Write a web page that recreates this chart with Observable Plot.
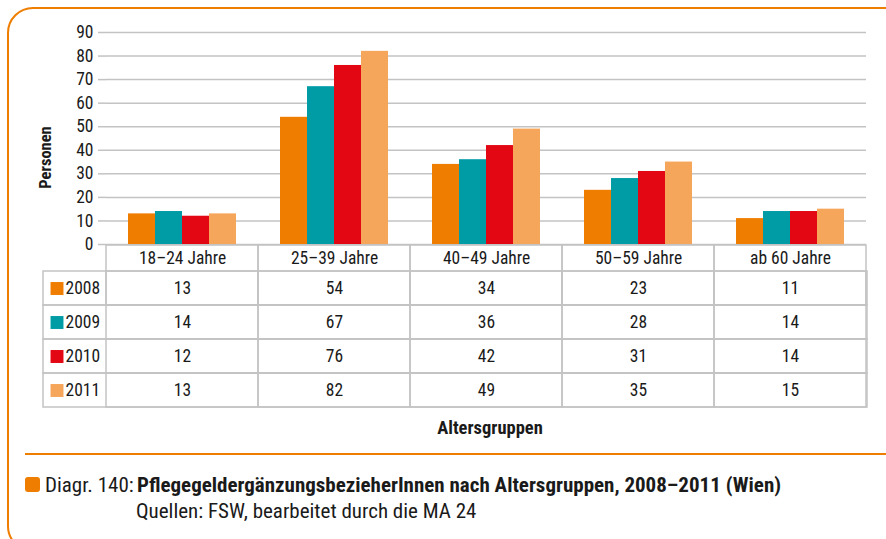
<!DOCTYPE html>
<html>
<head>
<meta charset="utf-8">
<script src="https://cdn.jsdelivr.net/npm/d3@7"></script>
<script src="https://cdn.jsdelivr.net/npm/@observablehq/plot@0.6"></script>
<style>
  html, body { margin: 0; padding: 0; background: #fff; }
  body { width: 886px; height: 539px; position: relative; overflow: hidden;
         font-family: "Liberation Sans Narrow", "Roboto Condensed", "DejaVu Sans Condensed", sans-serif; color: #1a1a1a; }
  .frame { position: absolute; left: 7px; top: 7px; width: 910px; height: 545px;
           border: 2px solid #ef7d00; border-radius: 26px; box-sizing: border-box; }
  #chart, #table { position: absolute; left: 0; }
  #chart { top: 0; }
  #table { top: 244px; }
  svg { font-family: "Liberation Sans Narrow", "Roboto Condensed", "DejaVu Sans Condensed", sans-serif; }
  .xtitle { position: absolute; left: 109px; width: 762px; top: 418px; text-align: center;
            font-weight: bold; font-size: 18.5px; line-height: 20px; }
  .sep { position: absolute; left: 25px; top: 453px; width: 870px; height: 2px; background: #ef7d00; }
  .sw { position: absolute; left: 25px; top: 477px; width: 15px; height: 15px; border-radius: 3px; background: #ef7d00; }
  .cap { position: absolute; left: 45px; top: 472px; font-size: 21px; line-height: 26px; }
  .cap .lab { display: inline-block; width: 92px; }
  .cap .src { padding-left: 91px; }
</style>
</head>
<body>
<div class="frame"></div>
<div id="chart"></div>
<div id="table"></div>
<div class="xtitle">Altersgruppen</div>
<div class="sep"></div>
<div class="sw"></div>
<div class="cap">
  <div><span class="lab">Diagr. 140:</span><b>PflegegeldergänzungsbezieherInnen nach Altersgruppen, 2008–2011 (Wien)</b></div>
  <div class="src">Quellen: FSW, bearbeitet durch die MA 24</div>
</div>
<script>
const categories = ["18–24 Jahre", "25–39 Jahre", "40–49 Jahre", "50–59 Jahre", "ab 60 Jahre"];
const years = ["2008", "2009", "2010", "2011"];
const colors = ["#ef7d00", "#009ca6", "#e30613", "#f6a65a"];
const values2008 = [13, 54, 34, 23, 11];
const values2009 = [14, 67, 36, 28, 14];
const values2010 = [12, 76, 42, 31, 14];
const values2011 = [13, 82, 49, 35, 15];
const yTicks = [0, 10, 20, 30, 40, 50, 60, 70, 80, 90];
const yTitle = "Personen";

const series = [values2008, values2009, values2010, values2011];
const rows = [];
years.forEach((yr, j) => categories.forEach((cat, i) => rows.push({cat, year: yr, value: series[j][i]})));

const grid = "#c3c3c3";
const fs = 17.5;

const chart = Plot.plot({
  width: 886, height: 270,
  marginLeft: 105, marginRight: 19, marginTop: 32, marginBottom: 26,
  style: {background: "transparent", color: "#1a1a1a"},
  fx: {domain: categories, padding: 0, axis: null},
  x: {domain: years, paddingInner: 0, paddingOuter: 0.72, axis: null},
  y: {domain: [0, 90], axis: null},
  color: {domain: years, range: colors},
  marks: [
    Plot.gridY(yTicks, {stroke: grid, strokeOpacity: 1, strokeWidth: 1.5}),
    Plot.barY(rows, {fx: "cat", x: "year", y: "value", fill: "year"}),
    Plot.axisY(yTicks, {tickSize: 8, tickPadding: 5, fontSize: fs, stroke: grid, strokeWidth: 1.5,
      label: null, line: true}),
    Plot.text([yTitle], {fx: () => categories[0], frameAnchor: "left", dx: -61, dy: 19, rotate: -90,
      textAnchor: "middle", lineAnchor: "middle", fontSize: 16.5, fontWeight: "bold", text: d => d})
  ]
});
document.getElementById("chart").append(chart);

const table = Plot.plot({
  width: 886, height: 165,
  marginLeft: 105, marginRight: 19, marginTop: 26, marginBottom: 1,
  style: {background: "transparent", color: "#1a1a1a"},
  x: {domain: categories, padding: 0, axis: null},
  y: {domain: years, padding: 0, axis: null},
  color: {domain: years, range: colors},
  marks: [
    Plot.cell(categories, {x: d => d, y: () => years[0], insetTop: -26, fill: "none", stroke: grid, strokeWidth: 1.5}),
    Plot.cell(years, {y: d => d, insetLeft: -62, fill: "none", stroke: grid, strokeWidth: 1.5}),
    Plot.cell(rows, {x: "cat", y: "year", fill: "none", stroke: grid, strokeWidth: 1.5}),
    Plot.text(rows, {x: "cat", y: "year", text: d => String(d.value), fontSize: fs}),
    Plot.dot(years, {y: d => d, frameAnchor: "left", dx: -48.5, symbol: "square", r: 7.3, fill: d => d}),
    Plot.text(years, {y: d => d, frameAnchor: "left", dx: -40, textAnchor: "start", text: d => d, fontSize: fs}),
    Plot.axisX({anchor: "top", tickSize: 0, tickPadding: 7, label: null, fontSize: fs})
  ]
});
document.getElementById("table").append(table);
</script>
</body>
</html>
